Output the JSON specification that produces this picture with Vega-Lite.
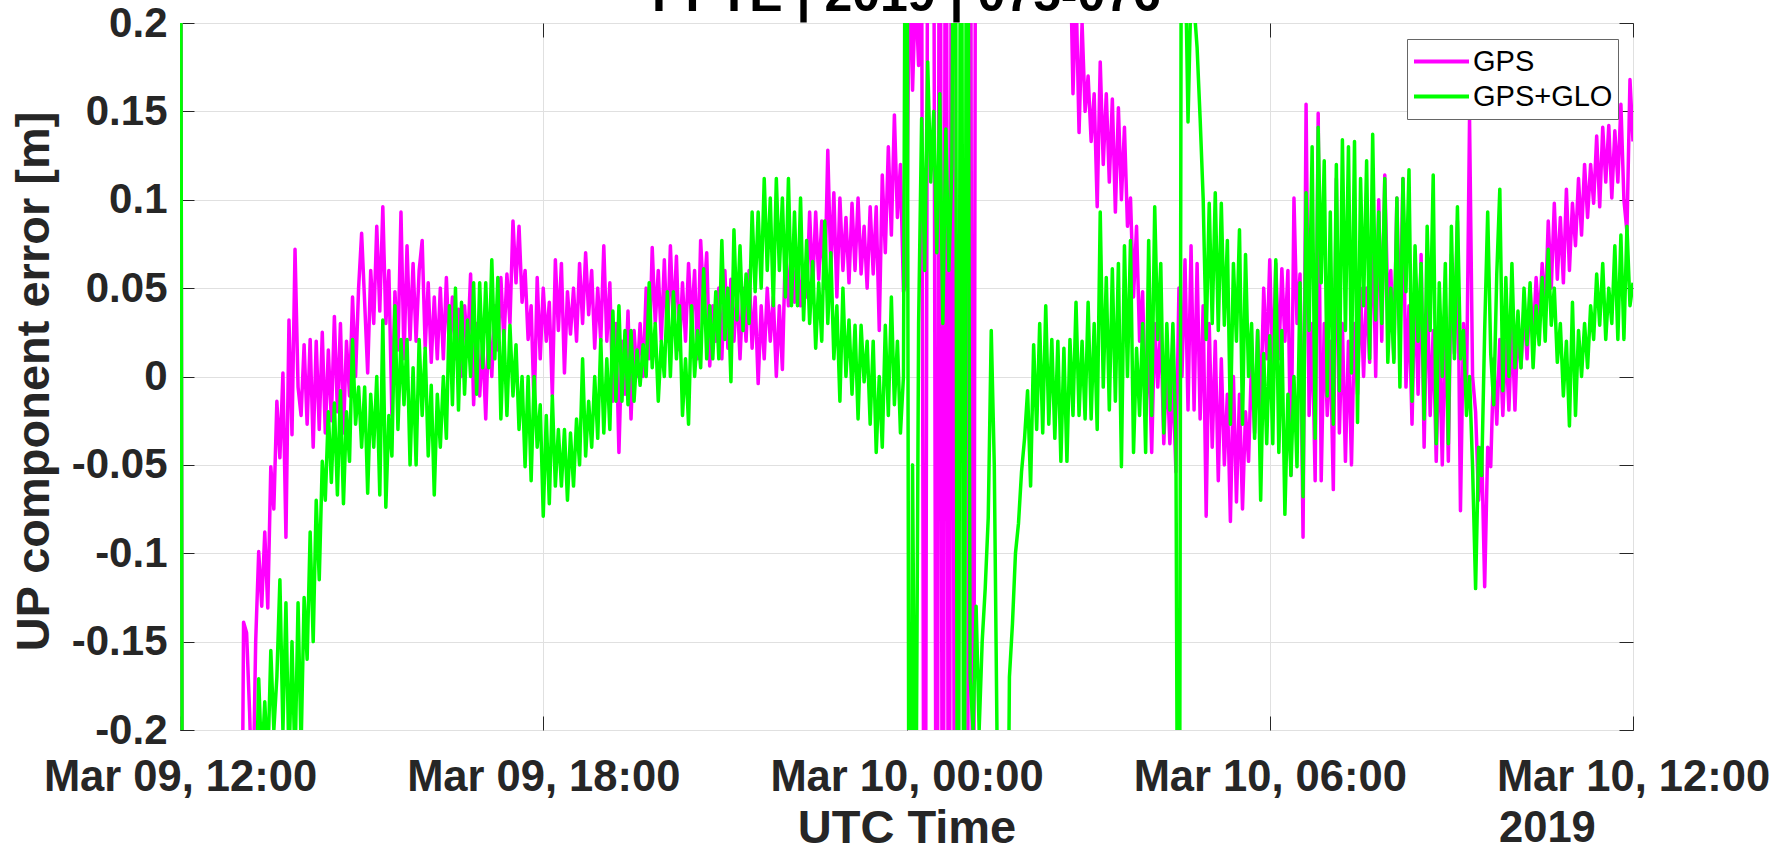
{
"$schema":"https://vega.github.io/schema/vega-lite/v6.json",
"width":1453,"height":707,
"autosize":{"type":"none"},
"padding":{"left":180,"top":23,"right":148,"bottom":121},
"background":"white",
"config":{"font":"Liberation Sans","view":{"stroke":"#262626","strokeWidth":1}},
"data":{"values":[
{"t":"2019-03-09T12:00","a":0.6,"b":0.6},{"t":"2019-03-09T12:03","a":-0.6,"b":-0.6},{"t":"2019-03-09T12:06","a":-0.4,"b":-0.4},{"t":"2019-03-09T12:09","a":-0.4,"b":-0.4},{"t":"2019-03-09T12:12","a":-0.4,"b":-0.4},{"t":"2019-03-09T12:15","a":-0.4,"b":-0.4},{"t":"2019-03-09T12:18","a":-0.4,"b":-0.4},{"t":"2019-03-09T12:21","a":-0.4,"b":-0.4},{"t":"2019-03-09T12:24","a":-0.4,"b":-0.4},{"t":"2019-03-09T12:27","a":-0.4,"b":-0.4},{"t":"2019-03-09T12:30","a":-0.4,"b":-0.4},{"t":"2019-03-09T12:33","a":-0.4,"b":-0.4},{"t":"2019-03-09T12:36","a":-0.4,"b":-0.4},{"t":"2019-03-09T12:39","a":-0.4,"b":-0.4},{"t":"2019-03-09T12:42","a":-0.4,"b":-0.4},{"t":"2019-03-09T12:45","a":-0.4,"b":-0.4},{"t":"2019-03-09T12:48","a":-0.4,"b":-0.4},{"t":"2019-03-09T12:51","a":-0.4,"b":-0.4},{"t":"2019-03-09T12:54","a":-0.4,"b":-0.4},{"t":"2019-03-09T12:57","a":-0.4,"b":-0.4},
{"t":"2019-03-09T13:00","a":-0.4,"b":-0.4},{"t":"2019-03-09T13:03","a":-0.139,"b":-0.4},{"t":"2019-03-09T13:06","a":-0.145,"b":-0.4},{"t":"2019-03-09T13:09","a":-0.19,"b":-0.4},{"t":"2019-03-09T13:12","a":-0.25,"b":-0.4},{"t":"2019-03-09T13:15","a":-0.15,"b":-0.25},{"t":"2019-03-09T13:18","a":-0.099,"b":-0.171},{"t":"2019-03-09T13:21","a":-0.13,"b":-0.22},{"t":"2019-03-09T13:24","a":-0.088,"b":-0.184},{"t":"2019-03-09T13:27","a":-0.131,"b":-0.22},{"t":"2019-03-09T13:30","a":-0.051,"b":-0.155},{"t":"2019-03-09T13:33","a":-0.075,"b":-0.2},{"t":"2019-03-09T13:36","a":-0.014,"b":-0.17},{"t":"2019-03-09T13:39","a":-0.046,"b":-0.115},{"t":"2019-03-09T13:42","a":0.002,"b":-0.2},{"t":"2019-03-09T13:45","a":-0.091,"b":-0.128},{"t":"2019-03-09T13:48","a":0.032,"b":-0.22},{"t":"2019-03-09T13:51","a":-0.033,"b":-0.15},{"t":"2019-03-09T13:54","a":0.072,"b":-0.22},{"t":"2019-03-09T13:57","a":-0.006,"b":-0.128},
{"t":"2019-03-09T14:00","a":-0.022,"b":-0.21},{"t":"2019-03-09T14:03","a":0.018,"b":-0.125},{"t":"2019-03-09T14:06","a":-0.027,"b":-0.16},{"t":"2019-03-09T14:09","a":0.021,"b":-0.088},{"t":"2019-03-09T14:12","a":-0.04,"b":-0.15},{"t":"2019-03-09T14:15","a":0.02,"b":-0.07},{"t":"2019-03-09T14:18","a":-0.03,"b":-0.115},{"t":"2019-03-09T14:21","a":0.025,"b":-0.048},{"t":"2019-03-09T14:24","a":-0.032,"b":-0.07},{"t":"2019-03-09T14:27","a":0.015,"b":-0.02},{"t":"2019-03-09T14:30","a":-0.025,"b":-0.06},{"t":"2019-03-09T14:33","a":0.034,"b":-0.015},{"t":"2019-03-09T14:36","a":-0.02,"b":-0.067},{"t":"2019-03-09T14:39","a":0.03,"b":-0.008},{"t":"2019-03-09T14:42","a":-0.032,"b":-0.072},{"t":"2019-03-09T14:45","a":0.02,"b":-0.02},{"t":"2019-03-09T14:48","a":-0.011,"b":-0.048},{"t":"2019-03-09T14:51","a":0.045,"b":0.021},{"t":"2019-03-09T14:54","a":0.0,"b":-0.027},{"t":"2019-03-09T14:57","a":0.05,"b":-0.006},
{"t":"2019-03-09T15:00","a":0.081,"b":-0.04},{"t":"2019-03-09T15:03","a":0.042,"b":-0.006},{"t":"2019-03-09T15:06","a":0.002,"b":-0.066},{"t":"2019-03-09T15:09","a":0.06,"b":-0.01},{"t":"2019-03-09T15:12","a":0.03,"b":-0.04},{"t":"2019-03-09T15:15","a":0.085,"b":0.0},{"t":"2019-03-09T15:18","a":0.037,"b":-0.067},{"t":"2019-03-09T15:21","a":0.096,"b":0.032},{"t":"2019-03-09T15:24","a":0.03,"b":-0.074},{"t":"2019-03-09T15:27","a":0.06,"b":-0.022},{"t":"2019-03-09T15:30","a":-0.022,"b":-0.045},{"t":"2019-03-09T15:33","a":0.048,"b":0.04},{"t":"2019-03-09T15:36","a":0.015,"b":-0.03},{"t":"2019-03-09T15:39","a":0.093,"b":0.021},{"t":"2019-03-09T15:42","a":0.01,"b":-0.016},{"t":"2019-03-09T15:45","a":0.074,"b":0.021},{"t":"2019-03-09T15:48","a":0.021,"b":-0.05},{"t":"2019-03-09T15:51","a":0.064,"b":0.005},{"t":"2019-03-09T15:54","a":0.02,"b":-0.05},{"t":"2019-03-09T15:57","a":0.06,"b":0.021},
{"t":"2019-03-09T16:00","a":0.077,"b":-0.022},{"t":"2019-03-09T16:03","a":0.016,"b":0.016},{"t":"2019-03-09T16:06","a":0.053,"b":-0.045},{"t":"2019-03-09T16:09","a":0.008,"b":-0.005},{"t":"2019-03-09T16:12","a":0.045,"b":-0.067},{"t":"2019-03-09T16:15","a":0.01,"b":-0.01},{"t":"2019-03-09T16:18","a":0.05,"b":-0.04},{"t":"2019-03-09T16:21","a":0.01,"b":0.0},{"t":"2019-03-09T16:24","a":0.056,"b":-0.035},{"t":"2019-03-09T16:27","a":0.015,"b":0.04},{"t":"2019-03-09T16:30","a":0.045,"b":-0.016},{"t":"2019-03-09T16:33","a":0.01,"b":0.05},{"t":"2019-03-09T16:36","a":0.038,"b":-0.019},{"t":"2019-03-09T16:39","a":0.0,"b":0.042},{"t":"2019-03-09T16:42","a":0.04,"b":-0.01},{"t":"2019-03-09T16:45","a":0.016,"b":0.032},{"t":"2019-03-09T16:48","a":0.058,"b":0.0},{"t":"2019-03-09T16:51","a":-0.016,"b":0.053},{"t":"2019-03-09T16:54","a":0.03,"b":-0.01},{"t":"2019-03-09T16:57","a":-0.011,"b":0.053},
{"t":"2019-03-09T17:00","a":0.02,"b":0.005},{"t":"2019-03-09T17:03","a":-0.024,"b":0.053},{"t":"2019-03-09T17:06","a":0.029,"b":0.005},{"t":"2019-03-09T17:09","a":0.0,"b":0.066},{"t":"2019-03-09T17:12","a":0.04,"b":0.01},{"t":"2019-03-09T17:15","a":0.015,"b":0.056},{"t":"2019-03-09T17:18","a":0.056,"b":-0.024},{"t":"2019-03-09T17:21","a":0.02,"b":0.026},{"t":"2019-03-09T17:24","a":0.058,"b":-0.022},{"t":"2019-03-09T17:27","a":0.03,"b":0.029},{"t":"2019-03-09T17:30","a":0.088,"b":-0.011},{"t":"2019-03-09T17:33","a":0.053,"b":0.018},{"t":"2019-03-09T17:36","a":0.085,"b":-0.03},{"t":"2019-03-09T17:39","a":0.042,"b":0.0},{"t":"2019-03-09T17:42","a":0.06,"b":-0.051},{"t":"2019-03-09T17:45","a":0.021,"b":0.0},{"t":"2019-03-09T17:48","a":0.04,"b":-0.059},{"t":"2019-03-09T17:51","a":-0.019,"b":0.0},{"t":"2019-03-09T17:54","a":0.056,"b":-0.04},{"t":"2019-03-09T17:57","a":0.01,"b":-0.016},
{"t":"2019-03-09T18:00","a":0.05,"b":-0.079},{"t":"2019-03-09T18:03","a":0.02,"b":-0.022},{"t":"2019-03-09T18:06","a":0.042,"b":-0.072},{"t":"2019-03-09T18:09","a":-0.011,"b":-0.011},{"t":"2019-03-09T18:12","a":0.066,"b":-0.062},{"t":"2019-03-09T18:15","a":0.026,"b":-0.03},{"t":"2019-03-09T18:18","a":0.064,"b":-0.062},{"t":"2019-03-09T18:21","a":0.002,"b":-0.03},{"t":"2019-03-09T18:24","a":0.048,"b":-0.07},{"t":"2019-03-09T18:27","a":0.024,"b":-0.032},{"t":"2019-03-09T18:30","a":0.05,"b":-0.062},{"t":"2019-03-09T18:33","a":0.02,"b":-0.024},{"t":"2019-03-09T18:36","a":0.064,"b":-0.05},{"t":"2019-03-09T18:39","a":0.03,"b":0.01},{"t":"2019-03-09T18:42","a":0.07,"b":-0.045},{"t":"2019-03-09T18:45","a":0.035,"b":-0.014},{"t":"2019-03-09T18:48","a":0.06,"b":-0.04},{"t":"2019-03-09T18:51","a":0.016,"b":0.0},{"t":"2019-03-09T18:54","a":0.05,"b":-0.035},{"t":"2019-03-09T18:57","a":0.02,"b":0.021},
{"t":"2019-03-09T19:00","a":0.074,"b":-0.032},{"t":"2019-03-09T19:03","a":0.02,"b":0.01},{"t":"2019-03-09T19:06","a":0.053,"b":-0.03},{"t":"2019-03-09T19:09","a":-0.014,"b":0.037},{"t":"2019-03-09T19:12","a":0.03,"b":-0.014},{"t":"2019-03-09T19:15","a":-0.043,"b":0.04},{"t":"2019-03-09T19:18","a":0.02,"b":-0.014},{"t":"2019-03-09T19:21","a":-0.01,"b":0.026},{"t":"2019-03-09T19:24","a":0.037,"b":-0.016},{"t":"2019-03-09T19:27","a":-0.024,"b":0.026},{"t":"2019-03-09T19:30","a":0.026,"b":-0.014},{"t":"2019-03-09T19:33","a":0.0,"b":0.015},{"t":"2019-03-09T19:36","a":0.03,"b":-0.005},{"t":"2019-03-09T19:39","a":0.0,"b":0.018},{"t":"2019-03-09T19:42","a":0.05,"b":0.0},{"t":"2019-03-09T19:45","a":0.01,"b":0.053},{"t":"2019-03-09T19:48","a":0.073,"b":0.005},{"t":"2019-03-09T19:51","a":0.03,"b":0.03},{"t":"2019-03-09T19:54","a":0.06,"b":-0.014},{"t":"2019-03-09T19:57","a":0.02,"b":0.02},
{"t":"2019-03-09T20:00","a":0.066,"b":0.0},{"t":"2019-03-09T20:03","a":0.02,"b":0.048},{"t":"2019-03-09T20:06","a":0.074,"b":0.0},{"t":"2019-03-09T20:09","a":0.03,"b":0.048},{"t":"2019-03-09T20:12","a":0.068,"b":0.01},{"t":"2019-03-09T20:15","a":0.015,"b":0.04},{"t":"2019-03-09T20:18","a":0.053,"b":-0.022},{"t":"2019-03-09T20:21","a":0.02,"b":0.01},{"t":"2019-03-09T20:24","a":0.064,"b":-0.027},{"t":"2019-03-09T20:27","a":0.03,"b":0.04},{"t":"2019-03-09T20:30","a":0.06,"b":0.0},{"t":"2019-03-09T20:33","a":0.01,"b":0.026},{"t":"2019-03-09T20:36","a":0.077,"b":0.005},{"t":"2019-03-09T20:39","a":0.042,"b":0.061},{"t":"2019-03-09T20:42","a":0.07,"b":0.01},{"t":"2019-03-09T20:45","a":0.006,"b":0.04},{"t":"2019-03-09T20:48","a":0.04,"b":0.01},{"t":"2019-03-09T20:51","a":0.02,"b":0.048},{"t":"2019-03-09T20:54","a":0.05,"b":0.01},{"t":"2019-03-09T20:57","a":0.01,"b":0.077},
{"t":"2019-03-09T21:00","a":0.06,"b":0.021},{"t":"2019-03-09T21:03","a":0.016,"b":0.05},{"t":"2019-03-09T21:06","a":0.055,"b":-0.003},{"t":"2019-03-09T21:09","a":0.02,"b":0.083},{"t":"2019-03-09T21:12","a":0.05,"b":0.032},{"t":"2019-03-09T21:15","a":0.01,"b":0.074},{"t":"2019-03-09T21:18","a":0.05,"b":0.026},{"t":"2019-03-09T21:21","a":0.02,"b":0.058},{"t":"2019-03-09T21:24","a":0.06,"b":0.03},{"t":"2019-03-09T21:27","a":0.016,"b":0.093},{"t":"2019-03-09T21:30","a":0.045,"b":0.048},{"t":"2019-03-09T21:33","a":-0.004,"b":0.093},{"t":"2019-03-09T21:36","a":0.04,"b":0.05},{"t":"2019-03-09T21:39","a":0.01,"b":0.112},{"t":"2019-03-09T21:42","a":0.05,"b":0.06},{"t":"2019-03-09T21:45","a":0.02,"b":0.101},{"t":"2019-03-09T21:48","a":0.045,"b":0.04},{"t":"2019-03-09T21:51","a":0.0,"b":0.112},{"t":"2019-03-09T21:54","a":0.04,"b":0.06},{"t":"2019-03-09T21:57","a":0.004,"b":0.101},
{"t":"2019-03-09T22:00","a":0.074,"b":0.045},{"t":"2019-03-09T22:03","a":0.04,"b":0.112},{"t":"2019-03-09T22:06","a":0.074,"b":0.04},{"t":"2019-03-09T22:09","a":0.042,"b":0.093},{"t":"2019-03-09T22:12","a":0.07,"b":0.04},{"t":"2019-03-09T22:15","a":0.04,"b":0.101},{"t":"2019-03-09T22:18","a":0.061,"b":0.032},{"t":"2019-03-09T22:21","a":0.045,"b":0.077},{"t":"2019-03-09T22:24","a":0.093,"b":0.03},{"t":"2019-03-09T22:27","a":0.05,"b":0.065},{"t":"2019-03-09T22:30","a":0.093,"b":0.016},{"t":"2019-03-09T22:33","a":0.055,"b":0.053},{"t":"2019-03-09T22:36","a":0.088,"b":0.02},{"t":"2019-03-09T22:39","a":0.05,"b":0.088},{"t":"2019-03-09T22:42","a":0.128,"b":0.03},{"t":"2019-03-09T22:45","a":0.06,"b":0.07},{"t":"2019-03-09T22:48","a":0.104,"b":0.01},{"t":"2019-03-09T22:51","a":0.045,"b":0.04},{"t":"2019-03-09T22:54","a":0.101,"b":-0.014},{"t":"2019-03-09T22:57","a":0.06,"b":0.05},
{"t":"2019-03-09T23:00","a":0.09,"b":0.0},{"t":"2019-03-09T23:03","a":0.053,"b":0.032},{"t":"2019-03-09T23:06","a":0.098,"b":-0.01},{"t":"2019-03-09T23:09","a":0.06,"b":0.029},{"t":"2019-03-09T23:12","a":0.101,"b":-0.024},{"t":"2019-03-09T23:15","a":0.058,"b":0.029},{"t":"2019-03-09T23:18","a":0.085,"b":-0.003},{"t":"2019-03-09T23:21","a":0.05,"b":0.02},{"t":"2019-03-09T23:24","a":0.096,"b":-0.027},{"t":"2019-03-09T23:27","a":0.058,"b":0.02},{"t":"2019-03-09T23:30","a":0.096,"b":-0.043},{"t":"2019-03-09T23:33","a":0.026,"b":0.0},{"t":"2019-03-09T23:36","a":0.114,"b":-0.04},{"t":"2019-03-09T23:39","a":0.07,"b":0.029},{"t":"2019-03-09T23:42","a":0.13,"b":-0.022},{"t":"2019-03-09T23:45","a":0.08,"b":0.045},{"t":"2019-03-09T23:48","a":0.148,"b":-0.016},{"t":"2019-03-09T23:51","a":0.09,"b":0.02},{"t":"2019-03-09T23:54","a":0.12,"b":-0.032},{"t":"2019-03-09T23:57","a":0.048,"b":0.0},
{"t":"2019-03-10T00:00","a":0.053,"b":0.5},{"t":"2019-03-10T00:03","a":0.25,"b":-0.5},{"t":"2019-03-10T00:06","a":0.162,"b":-0.05},{"t":"2019-03-10T00:09","a":0.22,"b":-0.3},{"t":"2019-03-10T00:12","a":0.176,"b":0.03},{"t":"2019-03-10T00:15","a":0.25,"b":0.146},{"t":"2019-03-10T00:18","a":-0.5,"b":0.06},{"t":"2019-03-10T00:21","a":0.3,"b":0.178},{"t":"2019-03-10T00:24","a":0.3,"b":0.11},{"t":"2019-03-10T00:27","a":0.3,"b":0.15},{"t":"2019-03-10T00:30","a":-0.5,"b":0.07},{"t":"2019-03-10T00:33","a":0.5,"b":0.16},{"t":"2019-03-10T00:36","a":-0.5,"b":0.03},{"t":"2019-03-10T00:39","a":0.5,"b":0.14},{"t":"2019-03-10T00:42","a":-0.5,"b":0.06},{"t":"2019-03-10T00:45","a":0.5,"b":0.12},{"t":"2019-03-10T00:48","a":-0.5,"b":0.5},{"t":"2019-03-10T00:51","a":-0.5,"b":-0.5},{"t":"2019-03-10T00:54","a":-0.5,"b":0.5},{"t":"2019-03-10T00:57","a":-0.5,"b":-0.4},
{"t":"2019-03-10T01:00","a":-0.5,"b":0.5},{"t":"2019-03-10T01:03","a":0.5,"b":-0.17},{"t":"2019-03-10T01:06","a":-0.5,"b":-0.2},{"t":"2019-03-10T01:09","a":0.5,"b":-0.13},{"t":"2019-03-10T01:12","a":0.5,"b":-0.2},{"t":"2019-03-10T01:15","a":0.5,"b":-0.15},{"t":"2019-03-10T01:18","a":0.5,"b":-0.12},{"t":"2019-03-10T01:21","a":0.5,"b":-0.08},{"t":"2019-03-10T01:24","a":0.5,"b":0.026},{"t":"2019-03-10T01:27","a":0.5,"b":-0.05},{"t":"2019-03-10T01:30","a":0.5,"b":-0.22},{"t":"2019-03-10T01:33","a":0.5,"b":-0.4},{"t":"2019-03-10T01:36","a":0.5,"b":-0.4},{"t":"2019-03-10T01:39","a":0.5,"b":-0.4},{"t":"2019-03-10T01:42","a":0.5,"b":-0.17},{"t":"2019-03-10T01:45","a":0.5,"b":-0.14},{"t":"2019-03-10T01:48","a":0.5,"b":-0.1},{"t":"2019-03-10T01:51","a":0.5,"b":-0.083},{"t":"2019-03-10T01:54","a":0.5,"b":-0.054},{"t":"2019-03-10T01:57","a":0.5,"b":-0.035},
{"t":"2019-03-10T02:00","a":0.5,"b":-0.008},{"t":"2019-03-10T02:03","a":0.5,"b":-0.062},{"t":"2019-03-10T02:06","a":0.5,"b":0.018},{"t":"2019-03-10T02:09","a":0.5,"b":-0.03},{"t":"2019-03-10T02:12","a":0.5,"b":0.03},{"t":"2019-03-10T02:15","a":0.5,"b":-0.032},{"t":"2019-03-10T02:18","a":0.5,"b":0.04},{"t":"2019-03-10T02:21","a":0.5,"b":-0.027},{"t":"2019-03-10T02:24","a":0.5,"b":0.021},{"t":"2019-03-10T02:27","a":0.5,"b":-0.035},{"t":"2019-03-10T02:30","a":0.5,"b":0.02},{"t":"2019-03-10T02:33","a":0.5,"b":-0.048},{"t":"2019-03-10T02:36","a":0.5,"b":0.016},{"t":"2019-03-10T02:39","a":0.5,"b":-0.048},{"t":"2019-03-10T02:42","a":0.25,"b":0.021},{"t":"2019-03-10T02:45","a":0.16,"b":-0.022},{"t":"2019-03-10T02:48","a":0.22,"b":0.042},{"t":"2019-03-10T02:51","a":0.138,"b":-0.022},{"t":"2019-03-10T02:54","a":0.2,"b":0.02},{"t":"2019-03-10T02:57","a":0.15,"b":-0.024},
{"t":"2019-03-10T03:00","a":0.17,"b":0.042},{"t":"2019-03-10T03:03","a":0.133,"b":-0.024},{"t":"2019-03-10T03:06","a":0.16,"b":0.03},{"t":"2019-03-10T03:09","a":0.096,"b":-0.03},{"t":"2019-03-10T03:12","a":0.178,"b":0.093},{"t":"2019-03-10T03:15","a":0.12,"b":-0.006},{"t":"2019-03-10T03:18","a":0.16,"b":0.056},{"t":"2019-03-10T03:21","a":0.11,"b":-0.019},{"t":"2019-03-10T03:24","a":0.157,"b":0.061},{"t":"2019-03-10T03:27","a":0.093,"b":-0.014},{"t":"2019-03-10T03:30","a":0.152,"b":0.064},{"t":"2019-03-10T03:33","a":0.1,"b":-0.051},{"t":"2019-03-10T03:36","a":0.141,"b":0.074},{"t":"2019-03-10T03:39","a":0.085,"b":0.0},{"t":"2019-03-10T03:42","a":0.101,"b":0.077},{"t":"2019-03-10T03:45","a":0.045,"b":-0.043},{"t":"2019-03-10T03:48","a":0.085,"b":0.016},{"t":"2019-03-10T03:51","a":0.02,"b":-0.022},{"t":"2019-03-10T03:54","a":0.048,"b":0.03},{"t":"2019-03-10T03:57","a":-0.022,"b":-0.043},
{"t":"2019-03-10T04:00","a":0.02,"b":0.077},{"t":"2019-03-10T04:03","a":-0.043,"b":-0.022},{"t":"2019-03-10T04:06","a":0.03,"b":0.096},{"t":"2019-03-10T04:09","a":-0.006,"b":0.021},{"t":"2019-03-10T04:12","a":0.03,"b":0.064},{"t":"2019-03-10T04:15","a":-0.038,"b":-0.032},{"t":"2019-03-10T04:18","a":0.01,"b":0.03},{"t":"2019-03-10T04:21","a":-0.038,"b":-0.019},{"t":"2019-03-10T04:24","a":0.0,"b":0.03},{"t":"2019-03-10T04:27","a":-0.054,"b":-0.035},{"t":"2019-03-10T04:30","a":0.05,"b":-0.5},{"t":"2019-03-10T04:33","a":0.0,"b":0.5},{"t":"2019-03-10T04:36","a":0.066,"b":0.25},{"t":"2019-03-10T04:39","a":-0.019,"b":0.144},{"t":"2019-03-10T04:42","a":0.074,"b":0.22},{"t":"2019-03-10T04:45","a":-0.019,"b":0.21},{"t":"2019-03-10T04:48","a":0.064,"b":0.186},{"t":"2019-03-10T04:51","a":-0.024,"b":0.146},{"t":"2019-03-10T04:54","a":0.04,"b":0.101},{"t":"2019-03-10T04:57","a":-0.079,"b":0.021},
{"t":"2019-03-10T05:00","a":0.03,"b":0.098},{"t":"2019-03-10T05:03","a":-0.04,"b":0.03},{"t":"2019-03-10T05:06","a":0.02,"b":0.104},{"t":"2019-03-10T05:09","a":-0.059,"b":0.026},{"t":"2019-03-10T05:12","a":0.01,"b":0.098},{"t":"2019-03-10T05:15","a":-0.05,"b":0.029},{"t":"2019-03-10T05:18","a":-0.01,"b":0.077},{"t":"2019-03-10T05:21","a":-0.082,"b":-0.027},{"t":"2019-03-10T05:24","a":0.0,"b":0.064},{"t":"2019-03-10T05:27","a":-0.071,"b":0.02},{"t":"2019-03-10T05:30","a":-0.01,"b":0.083},{"t":"2019-03-10T05:33","a":-0.075,"b":-0.027},{"t":"2019-03-10T05:36","a":-0.02,"b":0.069},{"t":"2019-03-10T05:39","a":-0.048,"b":0.0},{"t":"2019-03-10T05:42","a":0.01,"b":0.03},{"t":"2019-03-10T05:45","a":-0.032,"b":-0.035},{"t":"2019-03-10T05:48","a":0.026,"b":0.026},{"t":"2019-03-10T05:51","a":-0.02,"b":-0.07},{"t":"2019-03-10T05:54","a":0.05,"b":0.013},{"t":"2019-03-10T05:57","a":0.01,"b":-0.038},
{"t":"2019-03-10T06:00","a":0.066,"b":0.023},{"t":"2019-03-10T06:03","a":0.0,"b":-0.038},{"t":"2019-03-10T06:06","a":0.064,"b":0.066},{"t":"2019-03-10T06:09","a":0.01,"b":-0.043},{"t":"2019-03-10T06:12","a":0.061,"b":0.026},{"t":"2019-03-10T06:15","a":0.02,"b":-0.078},{"t":"2019-03-10T06:18","a":0.06,"b":-0.01},{"t":"2019-03-10T06:21","a":-0.056,"b":-0.056},{"t":"2019-03-10T06:24","a":0.101,"b":0.0},{"t":"2019-03-10T06:27","a":0.03,"b":-0.051},{"t":"2019-03-10T06:30","a":0.058,"b":0.053},{"t":"2019-03-10T06:33","a":-0.091,"b":-0.068},{"t":"2019-03-10T06:36","a":0.154,"b":0.104},{"t":"2019-03-10T06:39","a":-0.022,"b":0.026},{"t":"2019-03-10T06:42","a":0.03,"b":0.13},{"t":"2019-03-10T06:45","a":-0.059,"b":-0.035},{"t":"2019-03-10T06:48","a":0.149,"b":0.141},{"t":"2019-03-10T06:51","a":-0.059,"b":0.053},{"t":"2019-03-10T06:54","a":0.03,"b":0.122},{"t":"2019-03-10T06:57","a":-0.022,"b":-0.011},
{"t":"2019-03-10T07:00","a":0.02,"b":0.093},{"t":"2019-03-10T07:03","a":-0.064,"b":-0.027},{"t":"2019-03-10T07:06","a":0.112,"b":0.12},{"t":"2019-03-10T07:09","a":-0.032,"b":-0.008},{"t":"2019-03-10T07:12","a":0.03,"b":0.134},{"t":"2019-03-10T07:15","a":-0.048,"b":0.026},{"t":"2019-03-10T07:18","a":0.02,"b":0.13},{"t":"2019-03-10T07:21","a":-0.05,"b":0.002},{"t":"2019-03-10T07:24","a":0.03,"b":0.133},{"t":"2019-03-10T07:27","a":-0.01,"b":-0.026},{"t":"2019-03-10T07:30","a":0.05,"b":0.112},{"t":"2019-03-10T07:33","a":0.0,"b":0.04},{"t":"2019-03-10T07:36","a":0.05,"b":0.122},{"t":"2019-03-10T07:39","a":0.008,"b":0.01},{"t":"2019-03-10T07:42","a":0.09,"b":0.137},{"t":"2019-03-10T07:45","a":0.0,"b":0.032},{"t":"2019-03-10T07:48","a":0.1,"b":0.093},{"t":"2019-03-10T07:51","a":0.02,"b":0.03},{"t":"2019-03-10T07:54","a":0.114,"b":0.112},{"t":"2019-03-10T07:57","a":0.04,"b":0.008},
{"t":"2019-03-10T08:00","a":0.06,"b":0.05},{"t":"2019-03-10T08:03","a":0.01,"b":0.008},{"t":"2019-03-10T08:06","a":0.101,"b":0.101},{"t":"2019-03-10T08:09","a":0.02,"b":-0.006},{"t":"2019-03-10T08:12","a":0.112,"b":0.112},{"t":"2019-03-10T08:15","a":-0.006,"b":0.048},{"t":"2019-03-10T08:18","a":0.04,"b":0.117},{"t":"2019-03-10T08:21","a":-0.027,"b":-0.014},{"t":"2019-03-10T08:24","a":0.053,"b":0.074},{"t":"2019-03-10T08:27","a":-0.01,"b":0.02},{"t":"2019-03-10T08:30","a":0.069,"b":0.064},{"t":"2019-03-10T08:33","a":-0.04,"b":-0.024},{"t":"2019-03-10T08:36","a":0.053,"b":0.085},{"t":"2019-03-10T08:39","a":-0.022,"b":0.026},{"t":"2019-03-10T08:42","a":0.026,"b":0.114},{"t":"2019-03-10T08:45","a":-0.048,"b":-0.038},{"t":"2019-03-10T08:48","a":0.021,"b":0.053},{"t":"2019-03-10T08:51","a":-0.05,"b":0.0},{"t":"2019-03-10T08:54","a":0.04,"b":0.064},{"t":"2019-03-10T08:57","a":-0.048,"b":-0.038},
{"t":"2019-03-10T09:00","a":0.069,"b":0.085},{"t":"2019-03-10T09:03","a":0.013,"b":0.01},{"t":"2019-03-10T09:06","a":0.088,"b":0.096},{"t":"2019-03-10T09:09","a":-0.076,"b":0.01},{"t":"2019-03-10T09:12","a":0.03,"b":0.026},{"t":"2019-03-10T09:15","a":-0.01,"b":-0.022},{"t":"2019-03-10T09:18","a":0.146,"b":0.0},{"t":"2019-03-10T09:21","a":0.0,"b":-0.051},{"t":"2019-03-10T09:24","a":-0.02,"b":-0.12},{"t":"2019-03-10T09:27","a":-0.07,"b":-0.04},{"t":"2019-03-10T09:30","a":-0.04,"b":-0.056},{"t":"2019-03-10T09:33","a":-0.119,"b":0.026},{"t":"2019-03-10T09:36","a":-0.04,"b":0.093},{"t":"2019-03-10T09:39","a":-0.051,"b":0.013},{"t":"2019-03-10T09:42","a":0.01,"b":-0.016},{"t":"2019-03-10T09:45","a":-0.027,"b":0.058},{"t":"2019-03-10T09:48","a":0.021,"b":0.106},{"t":"2019-03-10T09:51","a":-0.022,"b":-0.008},{"t":"2019-03-10T09:54","a":0.02,"b":0.056},{"t":"2019-03-10T09:57","a":-0.019,"b":0.0},
{"t":"2019-03-10T10:00","a":0.03,"b":0.064},{"t":"2019-03-10T10:03","a":-0.019,"b":0.005},{"t":"2019-03-10T10:06","a":0.03,"b":0.037},{"t":"2019-03-10T10:09","a":0.005,"b":0.005},{"t":"2019-03-10T10:12","a":0.04,"b":0.05},{"t":"2019-03-10T10:15","a":0.01,"b":0.018},{"t":"2019-03-10T10:18","a":0.05,"b":0.053},{"t":"2019-03-10T10:21","a":0.02,"b":0.005},{"t":"2019-03-10T10:24","a":0.056,"b":0.04},{"t":"2019-03-10T10:27","a":0.03,"b":0.018},{"t":"2019-03-10T10:30","a":0.064,"b":0.056},{"t":"2019-03-10T10:33","a":0.035,"b":0.02},{"t":"2019-03-10T10:36","a":0.088,"b":0.072},{"t":"2019-03-10T10:39","a":0.05,"b":0.029},{"t":"2019-03-10T10:42","a":0.098,"b":0.05},{"t":"2019-03-10T10:45","a":0.055,"b":0.008},{"t":"2019-03-10T10:48","a":0.09,"b":0.03},{"t":"2019-03-10T10:51","a":0.053,"b":-0.011},{"t":"2019-03-10T10:54","a":0.106,"b":0.02},{"t":"2019-03-10T10:57","a":0.06,"b":-0.028},
{"t":"2019-03-10T11:00","a":0.098,"b":0.042},{"t":"2019-03-10T11:03","a":0.074,"b":-0.022},{"t":"2019-03-10T11:06","a":0.112,"b":0.026},{"t":"2019-03-10T11:09","a":0.08,"b":0.0},{"t":"2019-03-10T11:12","a":0.12,"b":0.03},{"t":"2019-03-10T11:15","a":0.09,"b":0.005},{"t":"2019-03-10T11:18","a":0.12,"b":0.04},{"t":"2019-03-10T11:21","a":0.098,"b":0.021},{"t":"2019-03-10T11:24","a":0.136,"b":0.058},{"t":"2019-03-10T11:27","a":0.096,"b":0.029},{"t":"2019-03-10T11:30","a":0.141,"b":0.064},{"t":"2019-03-10T11:33","a":0.11,"b":0.021},{"t":"2019-03-10T11:36","a":0.142,"b":0.05},{"t":"2019-03-10T11:39","a":0.101,"b":0.03},{"t":"2019-03-10T11:42","a":0.139,"b":0.074},{"t":"2019-03-10T11:45","a":0.11,"b":0.021},{"t":"2019-03-10T11:48","a":0.154,"b":0.08},{"t":"2019-03-10T11:51","a":0.1,"b":0.021},{"t":"2019-03-10T11:54","a":0.082,"b":0.085},{"t":"2019-03-10T11:57","a":0.168,"b":0.04},
{"t":"2019-03-10T12:00","a":0.133,"b":0.053}
]},
"layer":[
{"mark":{"type":"line","clip":true,"strokeWidth":3.5,"strokeJoin":"round"},
 "encoding":{
  "x":{"field":"t","type":"temporal",
   "scale":{"domain":[{"year":2019,"month":3,"date":9,"hours":12},{"year":2019,"month":3,"date":10,"hours":12}],"nice":false},
   "axis":{"orient":"bottom","values":[{"year":2019,"month":3,"date":9,"hours":12},{"year":2019,"month":3,"date":9,"hours":18},{"year":2019,"month":3,"date":10,"hours":0},{"year":2019,"month":3,"date":10,"hours":6},{"year":2019,"month":3,"date":10,"hours":12}],
    "format":"%b %d, %H:%M","labelFlush":false,"labelOverlap":false,"labelBound":false,"labelLimit":600,
    "labelFont":"Liberation Sans","labelFontSize":43.5,"labelFontWeight":"bold","labelColor":"#262626","labelPadding":40,
    "ticks":true,"tickSize":-14,"tickColor":"#262626","tickWidth":1,"domain":false,
    "grid":true,"gridColor":"#e0e0e0","gridWidth":1,
    "title":"UTC Time","titleFont":"Liberation Sans","titleFontSize":47,"titleFontWeight":"bold","titleColor":"#262626","titleX":726.5,"titleY":112,"titleBaseline":"alphabetic","titleAlign":"center","titleAnchor":null}},
  "y":{"field":"a","type":"quantitative",
   "scale":{"domain":[-0.2,0.2],"nice":false,"zero":false},
   "axis":{"orient":"left","values":[-0.2,-0.15,-0.1,-0.05,0,0.05,0.1,0.15,0.2],"labelExpr":"'' + datum.value",
    "labelFont":"Liberation Sans","labelFontSize":42,"labelFontWeight":"bold","labelColor":"#262626","labelPadding":27,"labelFlush":false,"labelOverlap":false,"labelBound":false,
    "ticks":true,"tickSize":-14,"tickColor":"#262626","tickWidth":1,"domain":false,
    "grid":true,"gridColor":"#e0e0e0","gridWidth":1,
    "title":"UP component error [m]","titleFont":"Liberation Sans","titleFontSize":47,"titleFontWeight":"bold","titleColor":"#262626","titleAngle":-90,"titleX":-132,"titleY":358,"titleBaseline":"alphabetic","titleAlign":"center","titleAnchor":null}},
  "color":{"datum":"GPS","type":"nominal",
   "scale":{"domain":["GPS","GPS+GLO"],"range":["#ff00ff","#00ff00"]},
   "legend":{"orient":"none","legendX":1227,"legendY":16,"title":null,"symbolType":"stroke","symbolSize":3025,"symbolStrokeWidth":4,"symbolOffset":0,
    "labelFont":"Liberation Sans","labelFontSize":29,"labelColor":"#000000","labelOffset":2,
    "strokeColor":"#666666","fillColor":"#ffffff","padding":5,"clipHeight":35,"rowPadding":0}}
 }},
{"mark":{"type":"line","clip":true,"strokeWidth":3.5,"strokeJoin":"round"},
 "encoding":{
  "x":{"field":"t","type":"temporal",
   "scale":{"domain":[{"year":2019,"month":3,"date":9,"hours":12},{"year":2019,"month":3,"date":10,"hours":12}],"nice":false},
   "axis":{"orient":"top","values":[{"year":2019,"month":3,"date":9,"hours":12},{"year":2019,"month":3,"date":9,"hours":18},{"year":2019,"month":3,"date":10,"hours":0},{"year":2019,"month":3,"date":10,"hours":6},{"year":2019,"month":3,"date":10,"hours":12}],
    "labels":false,"ticks":true,"tickSize":-14,"tickColor":"#262626","tickWidth":1,"domain":false,"grid":false,"title":null}},
  "y":{"field":"b","type":"quantitative",
   "scale":{"domain":[-0.2,0.2],"nice":false,"zero":false},
   "axis":{"orient":"right","values":[-0.2,-0.15,-0.1,-0.05,0,0.05,0.1,0.15,0.2],
    "labels":false,"ticks":true,"tickSize":-14,"tickColor":"#262626","tickWidth":1,"domain":false,"grid":false,"title":null}},
  "color":{"datum":"GPS+GLO","type":"nominal"}
 }},
{"data":{"values":[{}]},
 "mark":{"type":"text","text":"2019","align":"left","baseline":"alphabetic","dx":-134,"dy":112,"font":"Liberation Sans","fontSize":43.5,"fontWeight":"bold","color":"#262626"},
 "encoding":{
  "x":{"datum":{"year":2019,"month":3,"date":10,"hours":12},"type":"temporal","axis":null,
   "scale":{"domain":[{"year":2019,"month":3,"date":9,"hours":12},{"year":2019,"month":3,"date":10,"hours":12}],"nice":false}},
  "y":{"datum":-0.2,"type":"quantitative","axis":null,"scale":{"domain":[-0.2,0.2],"nice":false,"zero":false}}
 }},
{"data":{"values":[{}]},
 "mark":{"type":"text","text":"PPTE | 2019 | 075-076","align":"center","baseline":"alphabetic","dy":-12,"font":"Liberation Sans","fontSize":50,"fontWeight":"bold","color":"#000000"},
 "encoding":{
  "x":{"datum":{"year":2019,"month":3,"date":10,"hours":0},"type":"temporal","axis":null,
   "scale":{"domain":[{"year":2019,"month":3,"date":9,"hours":12},{"year":2019,"month":3,"date":10,"hours":12}],"nice":false}},
  "y":{"datum":0.2,"type":"quantitative","axis":null,"scale":{"domain":[-0.2,0.2],"nice":false,"zero":false}}
 }}
],
"resolve":{"axis":{"x":"independent","y":"independent"}}
}
